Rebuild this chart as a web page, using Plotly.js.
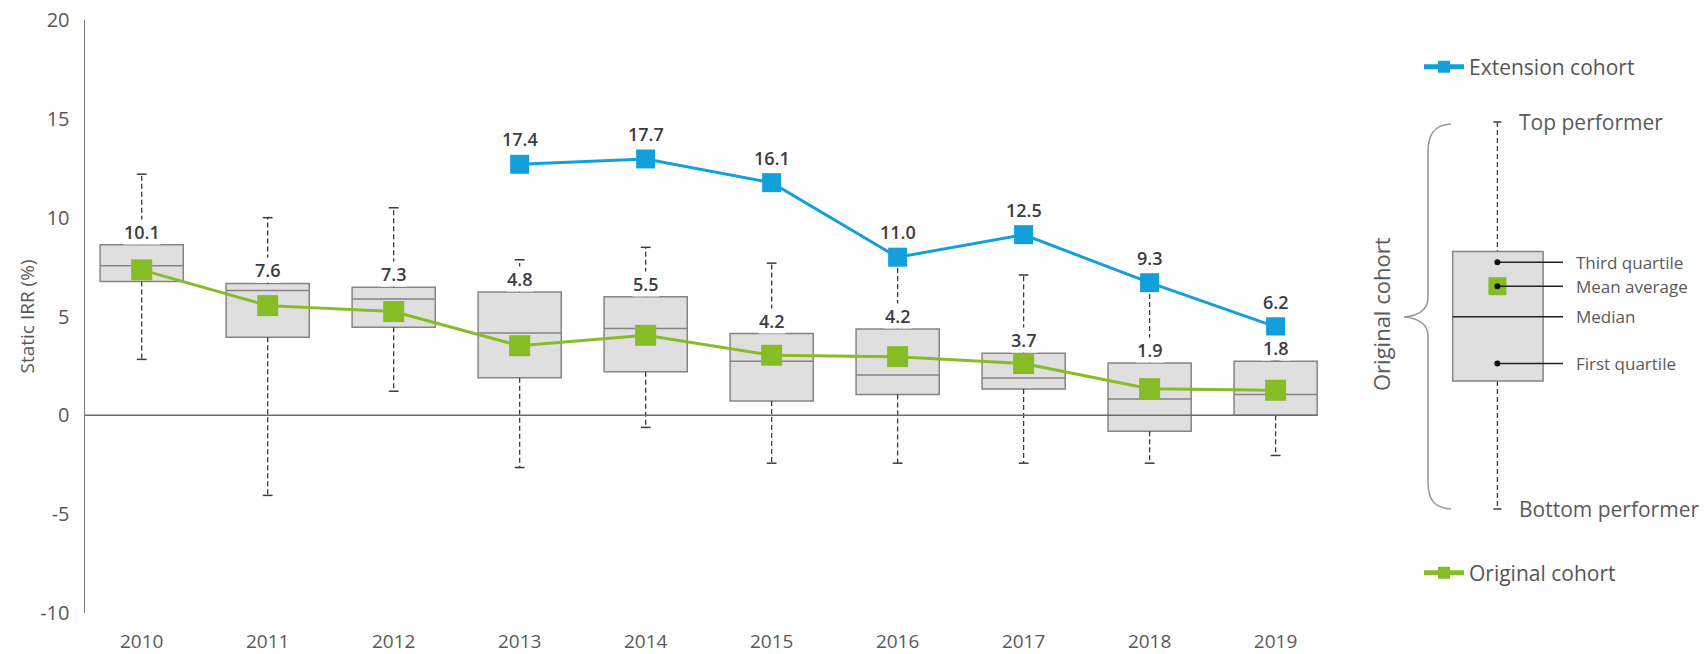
<!DOCTYPE html>
<html>
<head>
<meta charset="utf-8">
<script src="https://cdn.plot.ly/plotly-3.0.1.min.js"></script>
<style>html,body{margin:0;padding:0;background:#fff;}#chart{width:1707px;height:654px;}</style>
</head>
<body>
<div id="chart"></div>
<script>
// ---------- data ----------
const years = ['2010','2011','2012','2013','2014','2015','2016','2017','2018','2019'];
const upperWhisker = [12.2, 10.0, 10.5, 7.87, 8.5, 7.7, 7.9, 7.1, 6.6, 2.8];
const q3 = [8.63, 6.67, 6.48, 6.24, 6.0, 4.14, 4.37, 3.14, 2.65, 2.74];
const median = [7.57, 6.31, 5.89, 4.16, 4.39, 2.74, 2.04, 1.89, 0.83, 1.05];
const q1 = [6.77, 3.95, 4.45, 1.9, 2.2, 0.73, 1.05, 1.33, -0.81, 0.0];
const lowerWhisker = [2.83, -4.05, 1.22, -2.64, -0.61, -2.42, -2.42, -2.42, -2.42, -2.03];
const meanOriginal = [7.36, 5.55, 5.25, 3.52, 4.05, 3.04, 2.97, 2.62, 1.35, 1.27];
const originalLabels = ['10.1','7.6','7.3','4.8','5.5','4.2','4.2','3.7','1.9','1.8'];

const extYears = ['2013','2014','2015','2016','2017','2018','2019'];
const meanExtension = [12.7, 12.97, 11.77, 8.0, 9.14, 6.71, 4.48];
const extensionLabels = ['17.4','17.7','16.1','11.0','12.5','9.3','6.2'];

const yTickVals = [-10, -5, 0, 5, 10, 15, 20];
const yTickText = ['-10', '-5', '0', '5', '10', '15', '20'];

// ---------- styling / geometry ----------
const FONT = 'Open Sans, Noto Sans, sans-serif';
const GREEN = '#86bc25', BLUE = '#12a0db';
const M = {l: 85, r: 381, t: 20, b: 41};
const W = 1707 - M.l - M.r, H = 654 - M.t - M.b;
const px = x => (x - M.l) / W;
const py = y => (654 - M.b - y) / H;

// whisker segments built from the data arrays
const wx = [], wy = [];
years.forEach((yr, i) => {
  wx.push(yr, yr, null, yr, yr, null);
  wy.push(q3[i], upperWhisker[i], null, q1[i], lowerWhisker[i], null);
});

const traces = [
  {type: 'box', x: years, q1: q1, median: median, q3: q3,
   lowerfence: q1, upperfence: q3, width: 0.66, whiskerwidth: 0,
   fillcolor: '#dfdfdf', line: {color: '#858585', width: 1.5},
   boxpoints: false, showlegend: false, hoverinfo: 'skip'},
  {type: 'scatter', mode: 'lines', x: wx, y: wy,
   line: {color: '#3a3a3a', width: 1.3, dash: '5px,3px'},
   showlegend: false, hoverinfo: 'skip'},
  {type: 'scatter', mode: 'markers', x: years.concat(years), y: upperWhisker.concat(lowerWhisker),
   marker: {symbol: 'line-ew', size: 7, line: {color: '#3a3a3a', width: 1.5}},
   showlegend: false, hoverinfo: 'skip'},
  {type: 'scatter', mode: 'lines+markers', name: 'Original cohort', legend: 'legend2',
   x: years, y: meanOriginal,
   line: {color: GREEN, width: 3}, marker: {symbol: 'square', size: 21, color: GREEN}},
  {type: 'scatter', mode: 'lines+markers', name: 'Extension cohort', legend: 'legend',
   x: extYears, y: meanExtension,
   line: {color: BLUE, width: 3}, marker: {symbol: 'square', size: 19, color: BLUE}}
];

const labelFont = {family: FONT, size: 18, color: '#3c3c44', weight: 600};
const annotations = [];
years.forEach((yr, i) => annotations.push({
  x: i, y: q3[i], xref: 'x', yref: 'y', text: originalLabels[i], showarrow: false,
  yanchor: 'bottom', yshift: 0, font: labelFont, bgcolor: '#ffffff', borderpad: 0
}));
extYears.forEach((yr, i) => annotations.push({
  x: years.indexOf(yr), y: meanExtension[i], xref: 'x', yref: 'y', text: extensionLabels[i], showarrow: false,
  yanchor: 'bottom', yshift: 11, font: labelFont
}));

// explanatory schematic on the right
const sx = 1497.4, boxL = 1452.7, boxR = 1543.1, boxT = 251.4, boxB = 380.9;
const topY = 122, botY = 509, medY = 316.7, q3Y = 262.3, meanY = 286.2, q1Y = 363.5;
const lineEnd = 1563, textX = 1574;
const keyFont = {family: FONT, size: 17, color: '#5a5a5a'};
const bigFont = {family: FONT, size: 21, color: '#5a5a5a'};
const paperText = (x, y, text, font, extra) => Object.assign({
  x: px(x), y: py(y), xref: 'paper', yref: 'paper', text: text, showarrow: false,
  xanchor: 'left', yanchor: 'middle', font: font
}, extra || {});
annotations.push(
  paperText(1517, topY, 'Top performer', bigFont),
  paperText(1517, botY, 'Bottom performer', bigFont),
  paperText(textX, q3Y, 'Third quartile', keyFont),
  paperText(textX, meanY, 'Mean average', keyFont),
  paperText(textX, medY, 'Median', keyFont),
  paperText(textX, q1Y, 'First quartile', keyFont),
  paperText(1381, 314, 'Original cohort', {family: FONT, size: 22, color: '#5a5a5a'}, {xanchor: 'center', textangle: -90})
);

const pl = (x0, y0, x1, y1, line) => ({type: 'line', xref: 'paper', yref: 'paper',
  x0: px(x0), y0: py(y0), x1: px(x1), y1: py(y1), line: line});
const P = (x, y) => px(x).toFixed(5) + ',' + py(y).toFixed(5);
const bracePath = 'M' + P(1451, 124) + ' C' + P(1433, 125) + ' ' + P(1428, 136) + ' ' + P(1428, 152) +
  ' L' + P(1428, 298) + ' C' + P(1428, 310) + ' ' + P(1418, 316) + ' ' + P(1404, 317) +
  ' C' + P(1418, 318) + ' ' + P(1428, 324) + ' ' + P(1428, 336) +
  ' L' + P(1428, 482) + ' C' + P(1428, 498) + ' ' + P(1433, 508) + ' ' + P(1451, 509);
const dotR = 3;
const dot = y => ({type: 'circle', xref: 'paper', yref: 'paper',
  x0: px(sx - dotR), x1: px(sx + dotR), y0: py(y + dotR), y1: py(y - dotR),
  fillcolor: '#111', line: {width: 0}});

const shapes = [
  {type: 'line', xref: 'x', yref: 'y', x0: -0.45, x1: 9.33, y0: 0, y1: 0,
   line: {color: '#6a6a6a', width: 1.5}, layer: 'above'},
  {type: 'path', xref: 'paper', yref: 'paper', path: bracePath, line: {color: '#9a9a9a', width: 1.6}},
  pl(sx, topY, sx, boxT, {color: '#3a3a3a', width: 1.3, dash: '5px,3px'}),
  pl(sx, boxB, sx, botY, {color: '#3a3a3a', width: 1.3, dash: '5px,3px'}),
  pl(sx - 4, topY, sx + 4, topY, {color: '#3a3a3a', width: 1.5}),
  pl(sx - 4, botY, sx + 4, botY, {color: '#3a3a3a', width: 1.5}),
  {type: 'rect', xref: 'paper', yref: 'paper', x0: px(boxL), x1: px(boxR), y0: py(boxB), y1: py(boxT),
   fillcolor: '#dfdfdf', line: {color: '#858585', width: 1.5}},
  pl(boxL, medY, lineEnd, medY, {color: '#222', width: 1.5}),
  pl(sx, q3Y, lineEnd, q3Y, {color: '#222', width: 1.5}),
  pl(sx, q1Y, lineEnd, q1Y, {color: '#222', width: 1.5}),
  {type: 'rect', xref: 'paper', yref: 'paper', x0: px(sx - 9), x1: px(sx + 9), y0: py(meanY + 9), y1: py(meanY - 9),
   fillcolor: GREEN, line: {width: 0}},
  pl(sx, meanY, lineEnd, meanY, {color: '#222', width: 1.5}),
  dot(q3Y), dot(meanY), dot(q1Y)
];

const legendBase = {xanchor: 'left', yanchor: 'middle', bgcolor: 'rgba(0,0,0,0)',
  font: {family: FONT, size: 21, color: '#555'}, itemsizing: 'constant', itemwidth: 40};

const layout = {
  width: 1707, height: 654, margin: M,
  paper_bgcolor: '#fff', plot_bgcolor: '#fff',
  font: {family: FONT, color: '#595959'},
  showlegend: true,
  legend: Object.assign({x: px(1419), y: py(67)}, legendBase),
  legend2: Object.assign({x: px(1419), y: py(573)}, legendBase),
  xaxis: {type: 'category', range: [-0.45, 9.4], showgrid: false, zeroline: false, showline: false,
    ticks: 'outside', ticklen: 11, tickcolor: 'rgba(0,0,0,0)',
    tickfont: {family: FONT, size: 19, color: '#595959'}, fixedrange: true},
  yaxis: {range: [-10, 20], tickvals: yTickVals, ticktext: yTickText, showgrid: false, zeroline: false,
    showline: true, linecolor: '#7a7a7a', linewidth: 1.5,
    ticks: 'outside', ticklen: 10, tickcolor: 'rgba(0,0,0,0)',
    tickfont: {family: FONT, size: 20, color: '#595959'},
    title: {text: 'Static IRR (%)', font: {family: FONT, size: 19, color: '#595959'}, standoff: 0},
    fixedrange: true},
  annotations: annotations,
  shapes: shapes
};

Plotly.newPlot('chart', traces, layout, {displayModeBar: false, staticPlot: true});
</script>
</body>
</html>
